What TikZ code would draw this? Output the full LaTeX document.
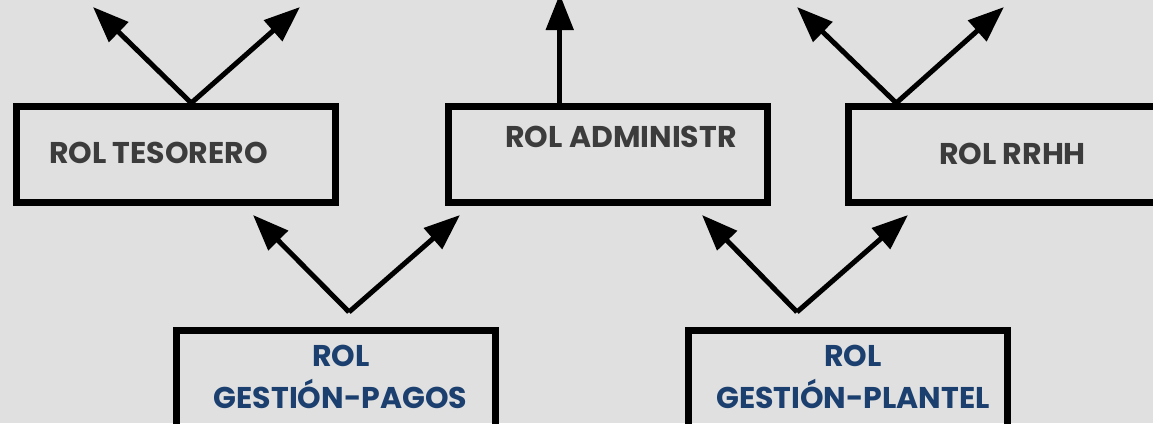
\documentclass[tikz,border=0pt]{standalone}
\usepackage{fontspec}
\setmainfont{Poppins}
\usetikzlibrary{arrows.meta}
\definecolor{bgc}{HTML}{E0E0E0}
\definecolor{txtgray}{HTML}{3C3C3C}
\definecolor{navy}{HTML}{1B3F6E}
\begin{document}
\begin{tikzpicture}[x=1pt,y=-1pt,
  rolebox/.style={draw=black, line width=6.5pt, minimum width=319pt, minimum height=96pt, inner sep=0pt, anchor=north west},
  lblg/.style={anchor=base, inner sep=0pt, text=txtgray, font=\fontsize{30}{36}\selectfont\bfseries},
  lbln/.style={anchor=base, inner sep=0pt, text=navy, font=\fontsize{30}{36}\selectfont\bfseries},
  arr/.style={line width=5pt, -{Triangle[length=36pt,width=27pt]}}
]
\fill[bgc] (0,0) rectangle (1153,423);
\useasboundingbox (0,0) rectangle (1153,423);
\clip (0,0) rectangle (1153,423);
% top row boxes
\node[rolebox] (tes) at (13,103) {};
\node[rolebox] (adm) at (445,103) {};
\node[rolebox] (rrh) at (845,103) {};
% bottom row boxes
\node[rolebox, minimum height=130pt] (pag) at (173,327) {};
\node[rolebox, minimum height=130pt] (pla) at (685,327) {};
% texts
\node[lblg] (tesT) at (158.5,163) {ROL TESORERO};
\node[lblg] (admT) at (621,147) {ROL ADMINISTR};
\node[lblg] (rrhT) at (1012.5,164) {ROL RRHH};
\node[lbln] (pagT1) at (341,366) {ROL};
\node[lbln] (pagT2) at (340.5,408) {GESTIÓN-PAGOS};
\node[lbln] (plaT1) at (853,366) {ROL};
\node[lbln] (plaT2) at (853,408) {GESTIÓN-PLANTEL};
% arrow origins and tips
\coordinate (tesO) at ([xshift=15.5pt]tes.north);
\coordinate (admO) at ([xshift=-48pt]adm.north);
\coordinate (rrhO) at ([xshift=-111.5pt]rrh.north);
\coordinate (pagO) at (349,312);
\coordinate (plaO) at (797,312);
\coordinate (t1) at (93,7);
\coordinate (t2) at (300,7);
\coordinate (t3) at (556.5,-6);
\coordinate (t4) at (797,7);
\coordinate (t5) at (1004,7);
\coordinate (b1) at (253,215);
\coordinate (b2) at (460,215);
\coordinate (b3) at (702,215);
\coordinate (b4) at (908,215);
\draw[arr] (tesO) -- (t1);
\draw[arr] (tesO) -- (t2);
\draw[arr] (admO) -- (admO |- t3);
\draw[arr] (rrhO) -- (t4);
\draw[arr] (rrhO) -- (t5);
\draw[arr] (pagO) -- (b1);
\draw[arr] (pagO) -- (b2);
\draw[arr] (plaO) -- (b3);
\draw[arr] (plaO) -- (b4);
\end{tikzpicture}
\end{document}
